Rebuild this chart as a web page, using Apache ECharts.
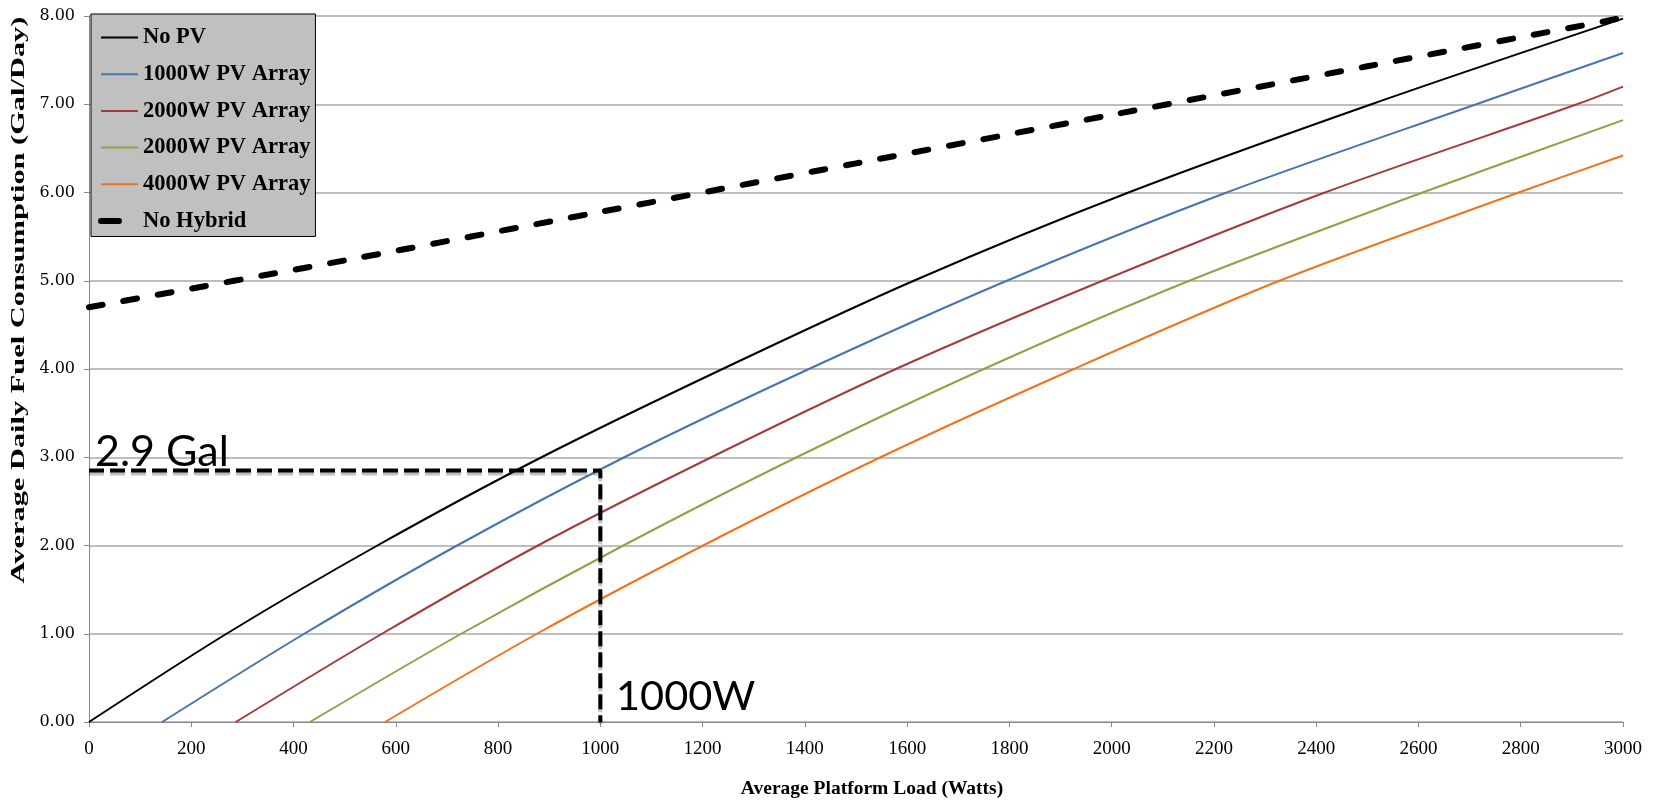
<!DOCTYPE html>
<html>
<head>
<meta charset="utf-8">
<title>Fuel consumption</title>
<script src="https://cdn.jsdelivr.net/npm/echarts@6/dist/echarts.min.js"></script>
<style>
    html, body { margin: 0; padding: 0; background: #fff; }
    #chart { width: 1658px; height: 804px; }
</style>
</head>
<body>
<div id="chart"></div>
<script>
    // values, [load (W), fuel (gal/day)]
    var noPV = [[0, 0], [269, 1], [564, 2], [885, 3], [1239, 4], [1613, 5], [2033, 6], [2508, 7], [3000, 7.97]];
    var pv1000 = [[143, 0], [421, 1], [720, 2], [1047, 3], [1408, 4], [1795, 5], [2225, 6], [2713, 7], [3000, 7.58]];
    var pv2000a = [[287, 0], [573, 1], [878, 2], [1217, 3], [1578, 4], [1982, 5], [2417, 6], [2910, 7], [3000, 7.2]];
    var pv2000b = [[432, 0], [728, 1], [1045, 2], [1384, 3], [1750, 4], [2152, 5], [2608, 6], [3000, 6.82]];
    var pv4000 = [[579, 0], [876, 1], [1201, 2], [1548, 3], [1926, 4], [2328, 5], [2796, 6], [3000, 6.42]];
    var noHybrid = [[0, 4.7], [500, 5.23], [1000, 5.78], [1500, 6.33], [2000, 6.88], [2500, 7.43], [3000, 7.98]];
    // the 1000W / 2.9 Gal guide
    var guide = [[0, 2.85], [1000, 2.85], [1000, 0]];

    var seriesNames = ['No PV', '1000W PV Array', '2000W PV Array', '2000W PV Array ', '4000W PV Array', 'No Hybrid'];
    var seriesColors = ['#000000', '#4674AC', '#A33B3A', '#86A646', '#F0731A', '#000000'];
    var seriesData = [noPV, pv1000, pv2000a, pv2000b, pv4000];

    var serif = '"Liberation Serif", "Times New Roman", serif';

    var series = seriesData.map(function (d, i) {
        return {
            name: seriesNames[i],
            type: 'line',
            data: d,
            smooth: 0.3,
            symbol: 'none',
            lineStyle: { color: seriesColors[i], width: 2 },
            itemStyle: { color: seriesColors[i] },
            z: 3
        };
    });
    series.push({
        name: 'No Hybrid',
        type: 'line',
        data: noHybrid,
        smooth: 0.3,
        symbol: 'none',
        lineStyle: { color: '#000', width: 6, type: [14, 21], cap: 'round' },
        itemStyle: { color: '#000' },
        z: 4
    });
    series.push({
        name: 'guide',
        type: 'line',
        data: guide,
        symbol: 'none',
        silent: true,
        lineStyle: {
            color: '#000', width: 4, type: [15, 6],
            shadowColor: 'rgba(0,0,0,0.25)', shadowOffsetY: 3, shadowBlur: 1
        },
        z: 5
    });

    var option = {
        backgroundColor: '#fff',
        animation: false,
        grid: { left: 89, right: 35, top: 16, bottom: 77 },
        legend: {
            orient: 'vertical',
            left: 91,
            top: 14,
            backgroundColor: '#c0c0c0',
            borderColor: '#000',
            borderWidth: 1,
            borderRadius: 0,
            padding: [12, 5, 4, 7],
            itemGap: 13.7,
            itemWidth: 37,
            itemHeight: 14,
            itemStyle: { opacity: 0 },
            textStyle: { fontFamily: serif, fontWeight: 'bold', fontSize: 22.5, color: '#000' },
            data: [
                { name: seriesNames[0] },
                { name: seriesNames[1] },
                { name: seriesNames[2] },
                { name: seriesNames[3] },
                { name: seriesNames[4] },
                { name: seriesNames[5], lineStyle: { width: 6, type: [18, 40], cap: 'round' } }
            ],
            formatter: function (name) { return name.trim(); }
        },
        xAxis: {
            type: 'value',
            min: 0,
            max: 3000,
            interval: 200,
            name: 'Average Platform Load (Watts)',
            nameLocation: 'middle',
            nameGap: 57,
            nameTextStyle: {
                fontFamily: serif, fontWeight: 'bold', fontSize: 19.5, color: '#000',
                padding: [0, 0, 0, 32]
            },
            axisLine: { lineStyle: { color: '#888', width: 1 } },
            axisTick: { show: true, length: 5, lineStyle: { color: '#888' } },
            axisLabel: {
                fontFamily: serif, fontSize: 19, color: '#000', margin: 18,
                formatter: function (v) { return String(v); }
            },
            splitLine: { show: false }
        },
        yAxis: {
            type: 'value',
            min: 0,
            max: 8,
            interval: 1,
            axisLine: { show: true, lineStyle: { color: '#888', width: 1 } },
            axisTick: { show: true, length: 5, lineStyle: { color: '#888' } },
            axisLabel: {
                fontFamily: '"DejaVu Serif", serif', fontSize: 16, color: '#000', margin: 14,
                formatter: function (v) { return v.toFixed(2); }
            },
            splitLine: { lineStyle: { color: '#a8a8a8', width: 1.5 } }
        },
        graphic: [
            {
                type: 'text',
                x: 19,
                y: 300,
                rotation: Math.PI / 2,
                scaleX: 1.6,
                style: {
                    text: 'Average Daily Fuel Consumption (Gal/Day)',
                    font: 'bold 19px ' + serif,
                    fill: '#000',
                    align: 'center',
                    verticalAlign: 'middle'
                }
            },
            {
                type: 'text',
                left: 95,
                top: 431,
                style: { text: '2.9 Gal', font: '43px Lato, "Open Sans", sans-serif', fill: '#000' },
                z: 10
            },
            {
                type: 'text',
                left: 616,
                top: 676,
                style: { text: '1000W', font: '41.5px Lato, "Open Sans", sans-serif', fill: '#000' },
                z: 10
            }
        ],
        series: series
    };

    var myChart = echarts.init(document.getElementById('chart'));
    myChart.setOption(option);
</script>
</body>
</html>
